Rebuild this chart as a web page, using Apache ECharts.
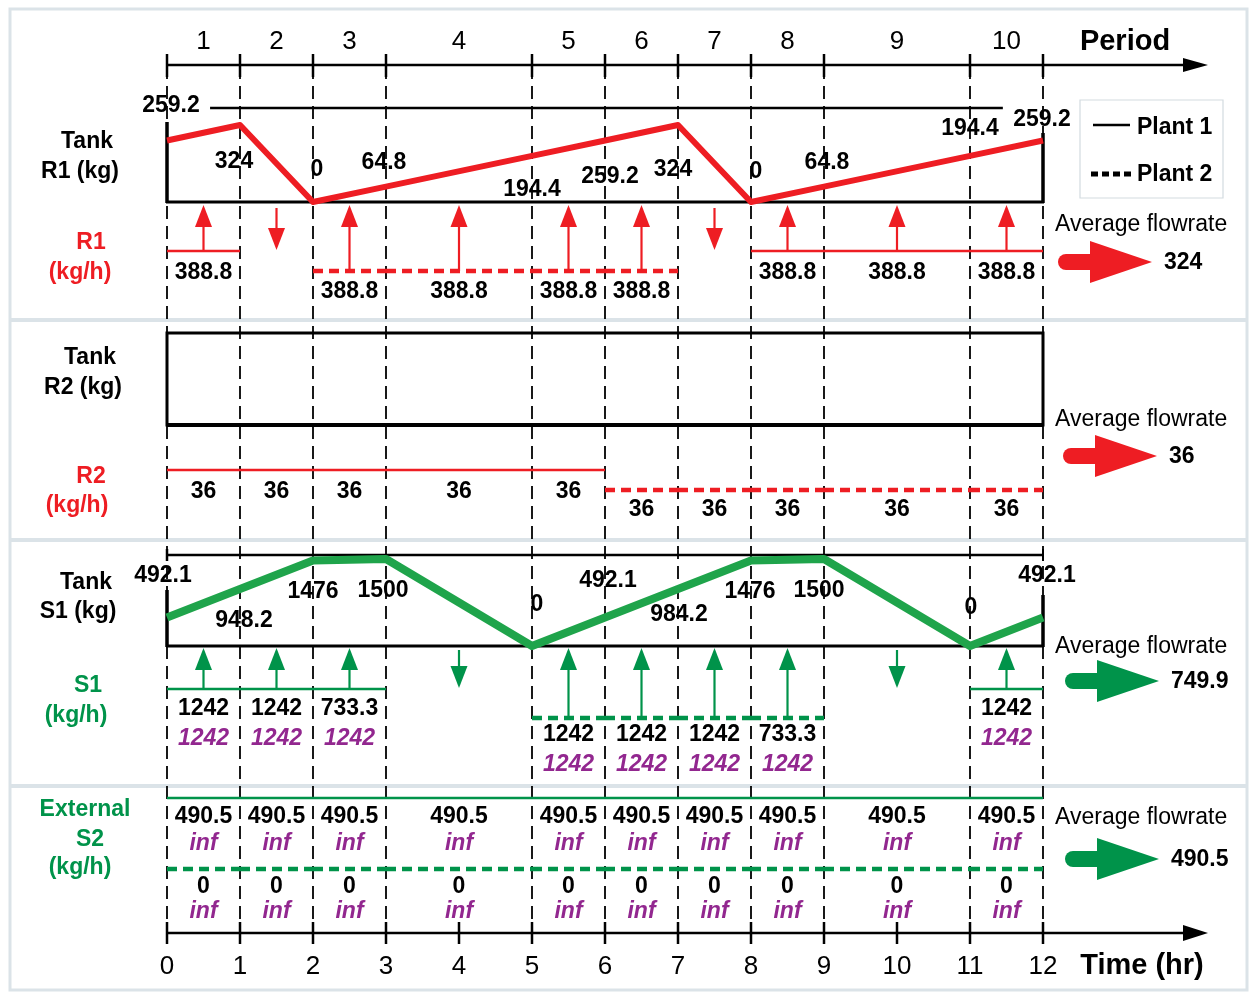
<!DOCTYPE html>
<html><head><meta charset="utf-8">
<script src="https://cdn.jsdelivr.net/npm/echarts@6/dist/echarts.min.js"></script>
<style>html,body{margin:0;padding:0;background:#fff}#c{width:1249px;height:992px}</style>
</head><body><div id="c"></div>
<script>
// ---------------- DATA ----------------
const PERIOD_LABELS = ['1','2','3','4','5','6','7','8','9','10'];
const PERIOD_BOUNDS = [0,1,2,3,5,6,7,8,9,11,12];
const TIME_TICKS = [0,1,2,3,4,5,6,7,8,9,10,11,12];

const R1_LEVEL_T = [0,1,2,3,5,6,7,8,9,11,12];
const R1_LEVEL = [259.2,324,0,64.8,194.4,259.2,324,0,64.8,194.4,259.2];
const R1_LEVEL_LABELS = ['259.2','324','0','64.8','194.4','259.2','324','0','64.8','194.4','259.2'];
// plant per period: 1 = Plant 1, 2 = Plant 2, -1 = tank discharging
const R1_PLANT = [1,-1,2,2,2,2,-1,1,1,1];
const R1_RATE = [388.8,null,388.8,388.8,388.8,388.8,null,388.8,388.8,388.8];
const R1_AVG = 324;

const R2_PLANT = [1,1,1,1,1,2,2,2,2,2];
const R2_RATE = [36,36,36,36,36,36,36,36,36,36];
const R2_AVG = 36;

const S1_LEVEL_T = [0,1,2,3,5,6,7,8,9,11,12];
const S1_LEVEL = [492.1,984.2,1476,1500,0,492.1,984.2,1476,1500,0,492.1];
const S1_LEVEL_LABELS = ['492.1','948.2','1476','1500','0','492.1','984.2','1476','1500','0','492.1'];
const S1_PLANT = [1,1,1,-1,2,2,2,2,-1,1];
const S1_RATE = [1242,1242,733.3,null,1242,1242,1242,733.3,null,1242];
const S1_CAP = [1242,1242,1242,null,1242,1242,1242,1242,null,1242];
const S1_AVG = 749.9;

const S2_P1_RATE = [490.5,490.5,490.5,490.5,490.5,490.5,490.5,490.5,490.5,490.5];
const S2_P1_CAP = ['inf','inf','inf','inf','inf','inf','inf','inf','inf','inf'];
const S2_P2_RATE = [0,0,0,0,0,0,0,0,0,0];
const S2_P2_CAP = ['inf','inf','inf','inf','inf','inf','inf','inf','inf','inf'];
const S2_AVG = 490.5;

// ---------------- STYLE / LAYOUT ----------------
const SEP = '#dbe3e8';
const RED = '#ee1d23';
const GREEN = '#00934a';
const TANKGREEN = '#1fa44b';
const PURPLE = '#92278f';
const FF = '"Liberation Sans", Arial, sans-serif';
const fB = s => 'bold ' + s + 'px ' + FF;
const fN = s => s + 'px ' + FF;
const fBI = s => 'italic bold ' + s + 'px ' + FF;
const LBL = 23;

const R1_LABEL_OFFSET = [[4,-35],[-6,37],[4,-32],[-2,-24],[0,34],[5,36],[-5,45],[5,-30],[3,-24],[0,-27],[-1,-21]];
const S1_LABEL_OFFSET = [[-4,-42],[4,32],[0,31],[-3,32],[5,-41],[3,-37],[1,26],[-1,31],[-5,32],[1,-38],[4,-42]];

function seg(x1,y1,x2,y2,stroke,lw,dash,cap){
  return {type:'line', shape:{x1,y1,x2,y2}, style:{stroke, lineWidth:lw, lineDash:dash||null, lineCap:cap||'butt'}};
}
function txt(x,y,s,font,fill,align){
  return {type:'text', style:{x, y, text:String(s), font:font||fB(LBL), fill:fill||'#000', align:align||'center', verticalAlign:'middle'}};
}
function poly(pts,fill){ return {type:'polygon', shape:{points:pts}, style:{fill}}; }
function upArrow(x,yFrom,yTip,color){
  const hh=22, hw=17;
  return [seg(x,yFrom,x,yTip+hh-2,color,2.2), poly([[x-hw/2,yTip+hh],[x,yTip],[x+hw/2,yTip+hh]],color)];
}
function downArrow(x,yFrom,yTip,color){
  const hh=22, hw=17;
  return [seg(x,yFrom,x,yTip-hh+2,color,2.2), poly([[x-hw/2,yTip-hh],[x,yTip],[x+hw/2,yTip-hh]],color)];
}
function fatArrow(x,cy,color){
  const sh=8, hh=21, sl=32, hl=62;
  return [
    {type:'rect', shape:{x:x, y:cy-sh, width:sl+2, height:2*sh, r:[sh,0,0,sh]}, style:{fill:color}},
    poly([[x+sl,cy-hh],[x+sl+hl,cy],[x+sl,cy+hh]],color)
  ];
}
const X = (api,t) => api.coord([t,0])[0];

// ---------------- FRAME ----------------
function renderFrame(params, api){
  const ch = [];
  const x0 = X(api,0), x12 = X(api,12);
  ch.push({type:'rect', shape:{x:10,y:9,width:1237,height:981}, style:{fill:'none', stroke:SEP, lineWidth:3}});
  [320,540,786].forEach(y => ch.push(seg(10,y,1247,y,SEP,4)));
  PERIOD_BOUNDS.forEach(t => ch.push(seg(X(api,t),66,X(api,t),932,'#000',1.8,[13,7])));
  // top period axis
  ch.push(seg(x0,65,1188,65,'#000',2.5));
  ch.push(poly([[1183,58],[1208,65],[1183,72]],'#000'));
  PERIOD_BOUNDS.forEach(t => ch.push(seg(X(api,t),54,X(api,t),77,'#000',2.5)));
  PERIOD_LABELS.forEach((s,i) => ch.push(txt((X(api,PERIOD_BOUNDS[i])+X(api,PERIOD_BOUNDS[i+1]))/2, 42, s, fN(26))));
  ch.push(txt(1125,42,'Period',fB(29)));
  // bottom time axis
  ch.push(seg(x0,933,1188,933,'#000',2.5));
  ch.push(poly([[1183,925],[1208,933],[1183,941]],'#000'));
  TIME_TICKS.forEach(t => ch.push(seg(X(api,t),922,X(api,t),944,'#000',2.5)));
  ch.push(txt(1142,966,'Time (hr)',fB(29)));
  // Tank R1 frame
  ch.push(seg(X(api,0.59),108,X(api,11.45),108,'#000',2.5));
  ch.push(seg(x0,122,x0,203,'#000',3.5));
  ch.push(seg(x0-1,202,x12+1,202,'#000',3));
  ch.push(seg(x12,133,x12,203,'#000',3.5));
  // Tank R2 frame
  ch.push({type:'rect', shape:{x:x0,y:333,width:x12-x0,height:92}, style:{fill:'none', stroke:'#000', lineWidth:3}});
  ch.push(seg(x0,425,x12,425,'#000',4));
  // Tank S1 frame
  ch.push(seg(x0,555,x12,555,'#000',2.5));
  ch.push(seg(x0,549,x0,561,'#000',2.5));
  ch.push(seg(x12,549,x12,561,'#000',2));
  ch.push(seg(x0,590,x0,647,'#000',3.5));
  ch.push(seg(x12,595,x12,647,'#000',3.5));
  ch.push(seg(x0-1,646,x12+1,646,'#000',3));
  // left titles
  ch.push(txt(87,142,'Tank'), txt(80,172,'R1 (kg)'));
  ch.push(txt(91,243,'R1',fB(LBL),RED), txt(80,273,'(kg/h)',fB(LBL),RED));
  ch.push(txt(90,358,'Tank'), txt(83,388,'R2 (kg)'));
  ch.push(txt(91,477,'R2',fB(LBL),RED), txt(77,506,'(kg/h)',fB(LBL),RED));
  ch.push(txt(86,583,'Tank'), txt(78,612,'S1 (kg)'));
  ch.push(txt(88,686,'S1',fB(LBL),GREEN), txt(76,716,'(kg/h)',fB(LBL),GREEN));
  ch.push(txt(85,810,'External',fB(LBL),GREEN), txt(90,840,'S2',fB(LBL),GREEN), txt(80,868,'(kg/h)',fB(LBL),GREEN));
  // legend
  ch.push({type:'rect', shape:{x:1080,y:100,width:143,height:98}, style:{fill:'none', stroke:'#d3dbe0', lineWidth:1.2}});
  ch.push(seg(1093,125,1130,125,'#000',2.5));
  ch.push(txt(1137,128,'Plant 1',fB(LBL),'#000','left'));
  ch.push(seg(1091,174,1133,174,'#000',5,[7,4]));
  ch.push(txt(1137,175,'Plant 2',fB(LBL),'#000','left'));
  return {type:'group', children:ch};
}

// ---------------- AVERAGE FLOWRATES ----------------
const AVG_VALUES = [R1_AVG, R2_AVG, S1_AVG, S2_AVG];
const AVG_LAYOUT = [
  {ty:225, cy:262, x:1058, color:RED},
  {ty:420, cy:456, x:1063, color:RED},
  {ty:647, cy:681, x:1065, color:GREEN},
  {ty:818, cy:859, x:1065, color:GREEN}
];
function renderAvg(params, api){
  const i = params.dataIndex, L = AVG_LAYOUT[i];
  const ch = [txt(1055, L.ty, 'Average flowrate', fN(23), '#000', 'left')];
  fatArrow(L.x, L.cy, L.color).forEach(e => ch.push(e));
  ch.push(txt(L.x + 106, L.cy + 1, String(api.value(0)), fB(LBL), '#000', 'left'));
  return {type:'group', children:ch};
}

// ---------------- FLOW ROWS ----------------
function flowRenderer(cfg){
  return function(params, api){
    const i = params.dataIndex;
    const p = cfg.plants[i];
    const xa = X(api, PERIOD_BOUNDS[i]), xb = X(api, PERIOD_BOUNDS[i+1]);
    const xm = (xa + xb) / 2;
    const ch = [];
    if (p === -1) {
      if (cfg.downTip) downArrow(xm, cfg.downFrom, cfg.downTip, cfg.color).forEach(e => ch.push(e));
    } else {
      const ly = cfg.lineY[p];
      if (p === 1) ch.push(seg(xa, ly, xb, ly, cfg.color, 2.5));
      else ch.push(seg(xa, ly, xb, ly, cfg.color, 4.5, [10,6]));
      if (cfg.tipY) upArrow(xm, ly, cfg.tipY, cfg.color).forEach(e => ch.push(e));
      const r = cfg.rates[i];
      if (r != null) ch.push(txt(xm, cfg.labelY[p], String(r), fB(LBL)));
      if (cfg.caps && cfg.caps[i] != null) ch.push(txt(xm, cfg.capY[p], String(cfg.caps[i]), fBI(LBL), PURPLE));
    }
    return {type:'group', children:ch};
  };
}
function flowSeries(cfg){
  return {
    type:'custom', xAxisIndex:0, yAxisIndex:0, clip:false, silent:true, z:3,
    data: cfg.plants.map((p,i) => [PERIOD_BOUNDS[i], PERIOD_BOUNDS[i+1]]),
    encode:{x:[0,1]},
    renderItem: flowRenderer(cfg)
  };
}
const FLOW_ROWS = [
  {plants:R1_PLANT, rates:R1_RATE, color:RED, lineY:{1:251,2:271}, labelY:{1:273,2:292}, tipY:205, downFrom:208, downTip:250},
  {plants:R2_PLANT, rates:R2_RATE, color:RED, lineY:{1:470,2:490}, labelY:{1:492,2:510}},
  {plants:S1_PLANT, rates:S1_RATE, caps:S1_CAP, color:GREEN, lineY:{1:689,2:718}, labelY:{1:709,2:735}, capY:{1:739,2:765}, tipY:648, downFrom:650, downTip:688},
  {plants:S2_P1_RATE.map(() => 1), rates:S2_P1_RATE, caps:S2_P1_CAP, color:GREEN, lineY:{1:798}, labelY:{1:817}, capY:{1:844}},
  {plants:S2_P2_RATE.map(() => 2), rates:S2_P2_RATE, caps:S2_P2_CAP, color:GREEN, lineY:{2:869}, labelY:{2:887}, capY:{2:912}}
];

// ---------------- LEVEL LABELS ----------------
function levelLabels(xi, labels, offsets){
  return {
    type:'custom', xAxisIndex:xi, yAxisIndex:xi, clip:false, silent:true, z:6,
    data: (xi === 1 ? R1_LEVEL_T.map((t,i) => [t, R1_LEVEL[i]]) : S1_LEVEL_T.map((t,i) => [t, S1_LEVEL[i]])),
    renderItem: (params, api) => {
      const c = api.coord([api.value(0), api.value(1)]);
      const o = offsets[params.dataIndex];
      return txt(c[0]+o[0], c[1]+o[1], labels[params.dataIndex], fB(LBL));
    }
  };
}

const chart = echarts.init(document.getElementById('c'), null, {renderer:'canvas', width:1249, height:992});
const gridBase = {left:167, right:206};
const option = {
  animation:false,
  backgroundColor:'#fff',
  grid:[
    Object.assign({top:0, height:992}, gridBase),
    Object.assign({top:107, height:95}, gridBase),
    Object.assign({top:333, height:92}, gridBase),
    Object.assign({top:555, height:91}, gridBase),
    Object.assign({top:900, height:33}, gridBase)
  ],
  xAxis:[0,1,2,3,4].map(i => ({
    type:'value', gridIndex:i, min:0, max:12, interval:1,
    show: i === 4,
    axisLine:{show:false}, axisTick:{show:false}, splitLine:{show:false},
    axisLabel:{show: i === 4, color:'#000', fontSize:26, fontFamily:'Liberation Sans', margin:21}
  })),
  yAxis:[
    {type:'value', gridIndex:0, min:0, max:992, inverse:true, show:false},
    {type:'value', gridIndex:1, min:0, max:400, show:false},
    {type:'value', gridIndex:2, min:0, max:1, show:false},
    {type:'value', gridIndex:3, min:0, max:1570, show:false},
    {type:'value', gridIndex:4, min:0, max:1, show:false}
  ],
  series:[
    {type:'custom', xAxisIndex:0, yAxisIndex:0, clip:false, silent:true, z:1, data:[[0,0]], renderItem:renderFrame},
    ...FLOW_ROWS.map(flowSeries),
    {type:'line', xAxisIndex:1, yAxisIndex:1, data:R1_LEVEL_T.map((t,i) => [t, R1_LEVEL[i]]), symbol:'none', silent:true, z:4,
      lineStyle:{color:RED, width:6, join:'round'}},
    {type:'line', xAxisIndex:3, yAxisIndex:3, data:S1_LEVEL_T.map((t,i) => [t, S1_LEVEL[i]]), symbol:'none', silent:true, z:4,
      lineStyle:{color:TANKGREEN, width:8, join:'round'}},
    levelLabels(1, R1_LEVEL_LABELS, R1_LABEL_OFFSET),
    levelLabels(3, S1_LEVEL_LABELS, S1_LABEL_OFFSET),
    {type:'custom', xAxisIndex:0, yAxisIndex:0, clip:false, silent:true, z:5, data:AVG_VALUES.map(v => [v, 0]), renderItem:renderAvg}
  ]
};
chart.setOption(option);
</script>
</body></html>
